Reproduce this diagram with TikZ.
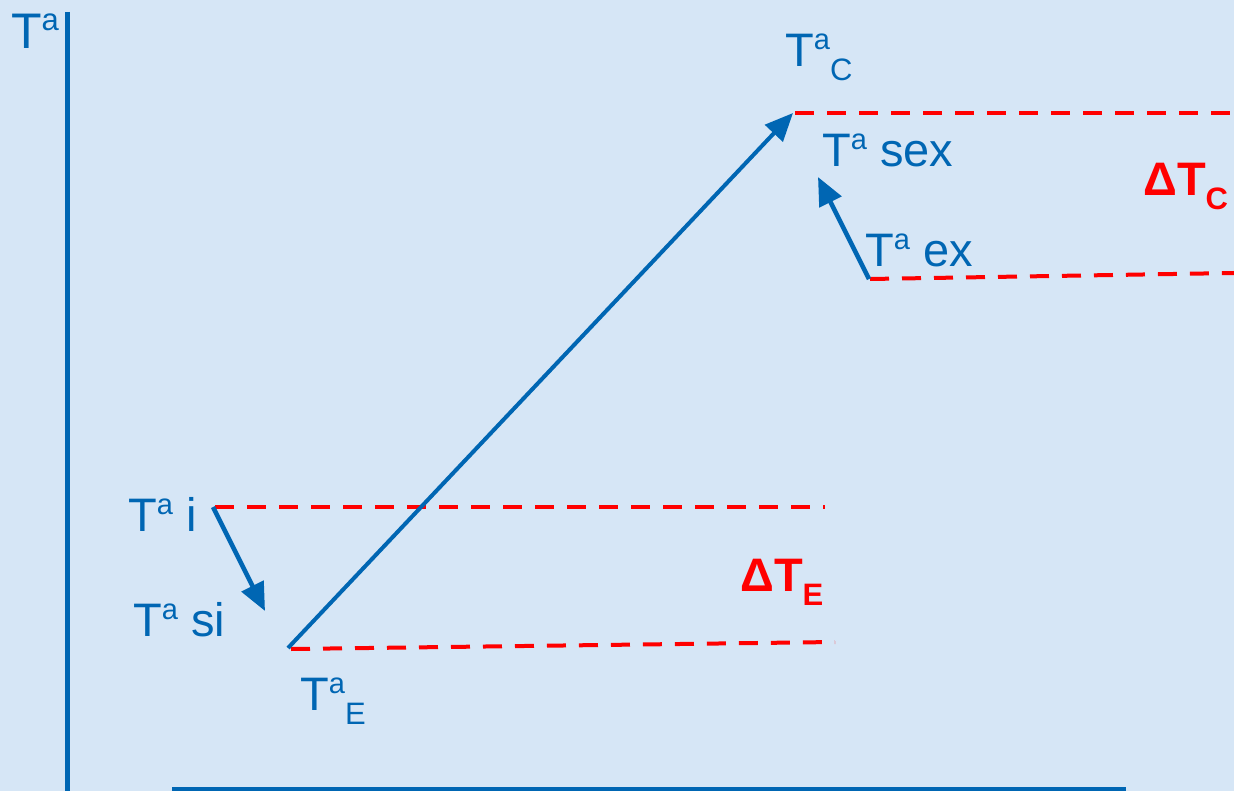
\documentclass[tikz,border=0pt]{standalone}
\usepackage{fontspec}
\setmainfont{Liberation Sans}
\usetikzlibrary{arrows.meta,positioning}
\definecolor{axisBlue}{RGB}{0,102,179}
\definecolor{deltaRed}{RGB}{255,0,0}
\definecolor{paperBlue}{RGB}{214,230,246}
\newcommand{\supa}{\raisebox{17pt}{\fontsize{29}{29}\selectfont a}}
\newcommand{\lowr}[1]{\raisebox{-14pt}{\fontsize{31}{31}\selectfont #1}}
\begin{document}
\begin{tikzpicture}[x=1pt,y=-1pt,
    lbl/.style={anchor=base west, inner sep=0pt, text=axisBlue,
      font=\fontsize{47}{50}\selectfont},
    dlbl/.style={anchor=base west, inner sep=0pt, text=deltaRed,
      font=\fontsize{47}{50}\selectfont\bfseries},
    lvl/.style={deltaRed, line width=4pt, dash pattern=on 19pt off 13pt},
    flow/.style={axisBlue, line width=4.5pt,
      -{Triangle[length=28pt,width=24pt]}},
    axis/.style={axisBlue, line width=5pt}
  ]
  % Background
  \fill[paperBlue] (0,0) rectangle (1234,791);
  \useasboundingbox (0,0) rectangle (1234,791);

  % Axes
  \coordinate (yTop) at (67,12);
  \coordinate (yBot) at (67,791);
  \coordinate (xLeft) at (172,789);
  \coordinate (xRight) at (1126,789);
  \draw[axis] (yTop) -- (yBot);
  \draw[axis, line width=4pt] (xLeft) -- (xRight);
  \node[lbl, font=\fontsize{50}{52}\selectfont] (tAxis) at (11,49)
    {T\raisebox{18pt}{\fontsize{31}{31}\selectfont a}};

  % Levels
  \coordinate (cL) at (795,113);   \coordinate (cR) at (1234,113);
  \coordinate (exL) at (870,279);  \coordinate (exR) at (1234,273);
  \coordinate (iL) at (215,507);   \coordinate (iR) at (825,507);
  \coordinate (eL) at (291,649);   \coordinate (eR) at (835,642);
  \draw[lvl] (cL) -- (cR);
  \draw[lvl] (exL) -- (exR);
  \draw[lvl] (iL) -- (iR);
  \draw[lvl] (eL) -- (eR);

  % Flows
  \coordinate (eStart) at (288,648);
  \coordinate (cTip) at (793,113);
  \coordinate (iStart) at (213,507);
  \coordinate (siTip) at (265,611);
  \coordinate (exStart) at (869,279);
  \coordinate (sexTip) at (818,177);
  \draw[flow, line width=4pt] (eStart) -- (cTip);
  \draw[flow] (iStart) -- (siTip);
  \draw[flow] (exStart) -- (sexTip);

  % Labels
  \node[lbl] (tC) at (785,67) {T\supa\lowr{C}};
  \node[lbl] (tSex) at (822,167) {T\supa{} sex};
  \node[lbl] (tEx) at (865,267) {T\supa{} ex};
  \node[dlbl] (dC) at (1143,196) {ΔT\lowr{C}};
  \node[lbl] (tI) at (128,531) {T\supa{} i};
  \node[lbl] (tSi) at (133,636) {T\supa{} si};
  \node[dlbl] (dE) at (740,591) {ΔT\lowr{E}};
  \node[lbl] (tE) at (300,710) {T\supa\lowr{E}};
\end{tikzpicture}
\end{document}
